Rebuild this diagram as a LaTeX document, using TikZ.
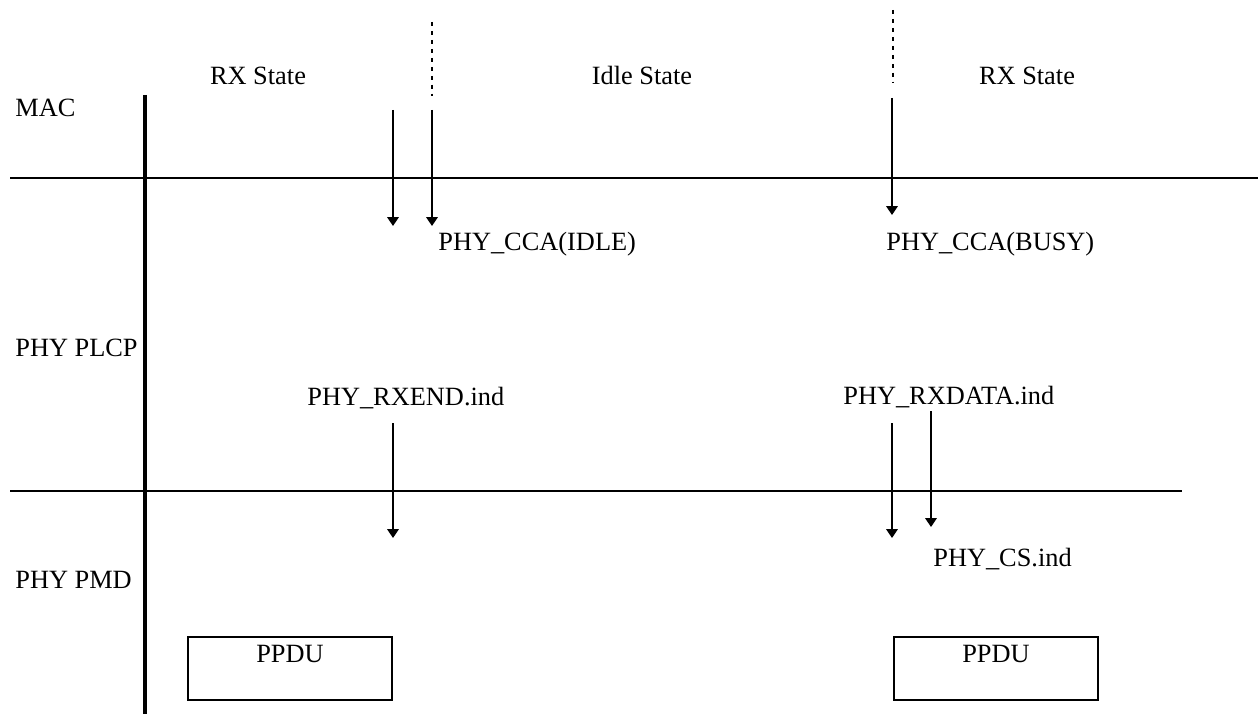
\documentclass[tikz,border=0pt]{standalone}
\usepackage{fontspec}
\setmainfont{Liberation Serif}
\usetikzlibrary{
  positioning,
  arrows.meta
}
\tikzset{
  layerLine/.style={draw, line width=1.1pt},
  timeAxis/.style={draw, line width=2.2pt},
  stateBound/.style={draw, line width=1.1pt, dash pattern=on 2.3pt off 2.8pt},
  primArrow/.style={
    draw, -{Triangle[length=5pt,width=6.5pt]}, line width=0.85pt
  },
  lbl/.style={font=\fontsize{15}{18}\selectfont, inner sep=0pt},
  ppduBox/.style={
    draw, line width=1.1pt, minimum width=4.08cm, minimum height=1.26cm,
    anchor=north west, inner sep=0pt
  }
}

\begin{document}
\begin{tikzpicture}[x=0.02cm, y=-0.02cm]
\useasboundingbox (0,0) rectangle (1258,723);

% ── LAYERS ─────────────────────────────────────────────────────────
\coordinate (axisTop) at (145,95);
\coordinate (axisBot) at (145,714);
\draw[timeAxis] (axisTop) -- (axisBot);

\coordinate (macL) at (10,178);
\coordinate (macR) at (1258,178);
\coordinate (pmdL) at (10,491);
\coordinate (pmdR) at (1182,491);
\draw[layerLine] (macL) -- (macR);
\draw[layerLine] (pmdL) -- (pmdR);

\node[lbl, anchor=base west] (mac)  at (15,117) {MAC};
\node[lbl, anchor=base west] (plcp) at (15,356) {PHY PLCP};
\node[lbl, anchor=base west] (pmd)  at (15,588) {PHY PMD};

% ── STATES ─────────────────────────────────────────────────────────
\node[lbl, anchor=base] (rxA)  at (258,85)  {RX State};
\node[lbl, anchor=base] (idle) at (642,85)  {Idle State};
\node[lbl, anchor=base] (rxB)  at (1027,85) {RX State};

\coordinate (boundATop) at (432,22);
\coordinate (boundABot) at (432,96);
\coordinate (boundBTop) at (893,10);
\coordinate (boundBBot) at (893,83);
\draw[stateBound] (boundATop) -- (boundABot);
\draw[stateBound] (boundBTop) -- (boundBBot);

% ── MAC / PLCP PRIMITIVES ──────────────────────────────────────────
\coordinate (rxEndMacTop) at (393,110);
\coordinate (rxEndMacBot) at (393,226);
\coordinate (ccaIdleTop)  at (432,110);
\coordinate (ccaIdleBot)  at (432,226);
\coordinate (ccaBusyTop)  at (892,98);
\coordinate (ccaBusyBot)  at (892,215);
\draw[primArrow] (rxEndMacTop) -- (rxEndMacBot);
\draw[primArrow] (ccaIdleTop) -- (ccaIdleBot);
\draw[primArrow] (ccaBusyTop) -- (ccaBusyBot);

\node[lbl, anchor=base west] (ccaIdle) at (438,250) {PHY\_CCA(IDLE)};
\node[lbl, anchor=base west] (ccaBusy) at (886,250) {PHY\_CCA(BUSY)};

% ── PLCP / PMD PRIMITIVES ──────────────────────────────────────────
\node[lbl, anchor=base west] (rxEnd)  at (307,405) {PHY\_RXEND.ind};
\node[lbl, anchor=base west] (rxData) at (843,404) {PHY\_RXDATA.ind};

\coordinate (rxEndTop)  at (393,423);
\coordinate (rxEndBot)  at (393,538);
\coordinate (rxDataTop) at (892,423);
\coordinate (rxDataBot) at (892,538);
\coordinate (csTop)     at (931,411);
\coordinate (csBot)     at (931,527);
\draw[primArrow] (rxEndTop) -- (rxEndBot);
\draw[primArrow] (rxDataTop) -- (rxDataBot);
\draw[primArrow] (csTop) -- (csBot);

\node[lbl, anchor=base west] (cs) at (933,566) {PHY\_CS.ind};

% ── PPDUs ──────────────────────────────────────────────────────────
\node[ppduBox] (ppduA) at (187,636) {};
\node[ppduBox] (ppduB) at (893,636) {};
\node[lbl, below=0.18cm of ppduA.north] {PPDU};
\node[lbl, below=0.18cm of ppduB.north] {PPDU};

\end{tikzpicture}
\end{document}
